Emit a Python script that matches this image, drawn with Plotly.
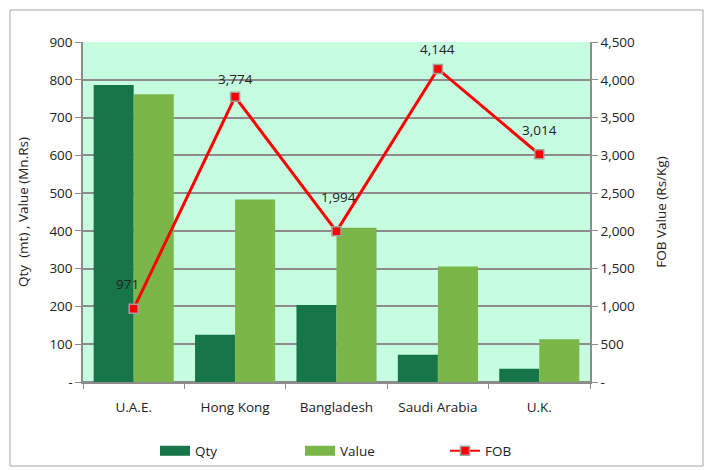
import plotly.graph_objects as go

categories = ["U.A.E.", "Hong Kong", "Bangladesh", "Saudi Arabia", "U.K."]
qty = [786, 125, 204, 72, 35]
value = [762, 483, 408, 306, 113]
fob = [971, 3774, 1994, 4144, 3014]
fob_labels = ["971", "3,774", "1,994", "4,144", "3,014"]

left_ticks = [0, 100, 200, 300, 400, 500, 600, 700, 800, 900]
left_ticktext = ["-", "100", "200", "300", "400", "500", "600", "700", "800", "900"]
right_ticks = [0, 500, 1000, 1500, 2000, 2500, 3000, 3500, 4000, 4500]
right_ticktext = ["-", "500", "1,000", "1,500", "2,000", "2,500", "3,000", "3,500", "4,000", "4,500"]

# label offsets (style only)
label_xshift = [-6, 0, 2, 0, 0]
label_yshift = [25, 18, 34, 20, 24]

font_family = "Open Sans, Liberation Sans, sans-serif"
QTY_COLOR = "#17754A"
VAL_COLOR = "#7AB648"
GRID = "#8C8C8C"

fig = go.Figure()
fig.add_trace(go.Bar(x=categories, y=qty, name="Qty", showlegend=False,
                     marker=dict(color=QTY_COLOR, line=dict(width=0))))
fig.add_trace(go.Bar(x=categories, y=value, name="Value", showlegend=False,
                     marker=dict(color=VAL_COLOR, line=dict(width=0))))
fig.add_trace(go.Scatter(
    x=categories, y=fob, name="FOB", yaxis="y2", mode="lines+markers", showlegend=False,
    line=dict(color="#FF0000", width=3),
    marker=dict(symbol="square", size=9, color="#FF0000", line=dict(color="#A0A0A0", width=1.5)),
))
# legend keys (wide swatches like the original)
fig.add_trace(go.Scatter(x=[None], y=[None], mode="lines", name="Qty",
                         line=dict(color=QTY_COLOR, width=10)))
fig.add_trace(go.Scatter(x=[None], y=[None], mode="lines", name="Value",
                         line=dict(color=VAL_COLOR, width=10)))
fig.add_trace(go.Scatter(x=[None], y=[None], mode="lines+markers", name="FOB", yaxis="y2",
                         line=dict(color="#FF0000", width=2),
                         marker=dict(symbol="square", size=9, color="#FF0000",
                                     line=dict(color="#A0A0A0", width=1.5))))

annotations = []
for c, v, t, dx, dy in zip(categories, fob, fob_labels, label_xshift, label_yshift):
    annotations.append(dict(x=c, y=v, xref="x", yref="y2", text=t, showarrow=False,
                            xshift=dx, yshift=dy, font=dict(size=13.5, color="#222222")))

fig.update_layout(
    width=707, height=470,
    margin=dict(l=83, r=117, t=42, b=88, autoexpand=False),
    paper_bgcolor="white",
    plot_bgcolor="#C6FCE0",
    font=dict(family=font_family, size=13.5, color="#222222"),
    barmode="group",
    bargap=0.21,
    bargroupgap=0,
    showlegend=True,
    legend=dict(orientation="h", x=(155 - 83) / 507, xanchor="left",
                y=(382 - 451) / 340, yanchor="middle",
                font=dict(size=13.5), traceorder="normal", itemwidth=30,
                entrywidth=100, bgcolor="rgba(0,0,0,0)"),
    xaxis=dict(showgrid=False, showline=True, linecolor=GRID, linewidth=1.5,
               ticks="outside", ticklen=5, tickcolor=GRID, tickson="boundaries",
               ticklabelstandoff=12, tickfont=dict(size=13.5), automargin=False),
    yaxis=dict(range=[0, 900], tickvals=left_ticks, ticktext=left_ticktext,
               showgrid=True, gridcolor=GRID, gridwidth=1.5,
               showline=True, linecolor=GRID, linewidth=1.5,
               ticks="outside", ticklen=6, tickcolor=GRID,
               title=dict(text="Qty  (mt) , Value (Mn.Rs)", font=dict(size=13.5), standoff=18),
               zeroline=True, zerolinecolor=GRID, zerolinewidth=1.5, automargin=False),
    yaxis2=dict(range=[0, 4500], tickvals=right_ticks, ticktext=right_ticktext,
                overlaying="y", side="right", showgrid=False,
                showline=True, linecolor=GRID, linewidth=1.5,
                ticks="outside", ticklen=6, tickcolor=GRID,
                title=dict(text="FOB Value (Rs/Kg)", font=dict(size=13.5), standoff=22),
                zeroline=False, automargin=False),
    annotations=annotations,
    shapes=[dict(type="rect", xref="paper", yref="paper",
                 x0=(10 - 83) / 507, x1=(703 - 83) / 507,
                 y0=(382 - 466) / 340, y1=(382 - 10) / 340,
                 line=dict(color="#A6A6A6", width=1), fillcolor="rgba(0,0,0,0)", layer="below")],
)

fig.write_html("out.html", config={"displayModeBar": False},
               post_script="document.body.style.margin='0';")
